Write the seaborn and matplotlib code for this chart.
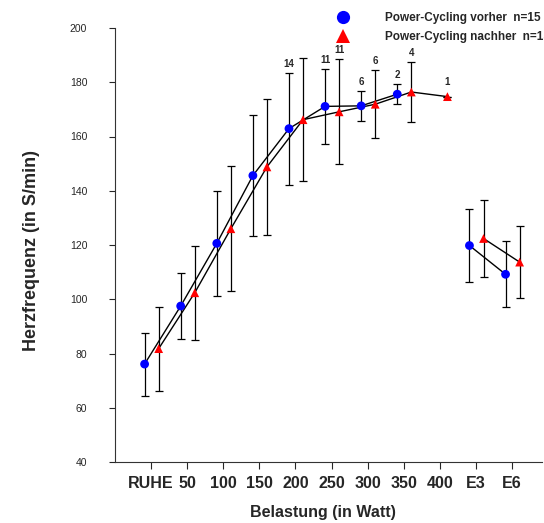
import numpy as np
import pandas as pd
import matplotlib
matplotlib.use("Agg")
import matplotlib.pyplot as plt
import seaborn as sns
from matplotlib.lines import Line2D

# ---------------- data ----------------
categories = ['RUHE', '50', '100', '150', '200', '250', '300', '350', '400', 'E3', 'E6']
segment = ['Belastung'] * 9 + ['Erholung'] * 2

vorher_mean = [76.1, 97.5, 120.6, 145.6, 162.9, 171.1, 171.3, 175.6, np.nan, 119.8, 109.2]
vorher_sd = [11.6, 12.2, 19.3, 22.3, 20.6, 13.9, 5.5, 3.7, np.nan, 13.6, 12.2]
vorher_n = ['', '', '', '', '14', '11', '6', '2', '', '', '']

nachher_mean = [81.8, 102.4, 126.0, 148.8, 166.2, 169.1, 171.9, 176.4, 174.7, 122.4, 113.7]
nachher_sd = [15.5, 17.3, 23.0, 25.1, 22.6, 19.3, 12.5, 11.0, 0.0, 14.3, 13.3]
nachher_n = ['', '', '', '', '', '11', '6', '4', '1', '', '']

yticks = [40, 60, 80, 100, 120, 140, 160, 180, 200]

legend_labels = ['Power-Cycling vorher  n=15', 'Power-Cycling nachher  n=15']

# ---------------- styling ----------------
sns.set_style("ticks")
plt.rcParams['font.family'] = ['Liberation Sans', 'DejaVu Sans']

groups = {
    'vorher': dict(mean=vorher_mean, sd=vorher_sd, n=vorher_n, offset=-0.18,
                   color='#0000ff', marker='o'),
    'nachher': dict(mean=nachher_mean, sd=nachher_sd, n=nachher_n, offset=0.21,
                    color='#ff0000', marker='^'),
}

rows = []
for g, d in groups.items():
    for i, cat in enumerate(categories):
        rows.append(dict(group=g, cat=cat, idx=i, x=i + d['offset'],
                         mean=d['mean'][i], sd=d['sd'][i], n=d['n'][i],
                         segment=segment[i]))
df = pd.DataFrame(rows).dropna(subset=['mean'])

fig = plt.figure(figsize=(5.44, 5.23), dpi=100)
ax = fig.add_axes([115 / 544, 1 - 462 / 523, (542 - 115) / 544, (462 - 28) / 523])

# connecting lines
sns.lineplot(data=df, x='x', y='mean', hue='group', units='segment', estimator=None,
             palette={'vorher': 'black', 'nachher': 'black'}, linewidth=1.0,
             legend=False, sort=True, ax=ax, zorder=2)

# error bars
for g, d in groups.items():
    sub = df[df.group == g]
    ax.errorbar(sub['x'], sub['mean'], yerr=sub['sd'].fillna(0), fmt='none',
                ecolor='black', elinewidth=0.9, capsize=2.6, capthick=0.9, zorder=1)

# markers
sns.scatterplot(data=df, x='x', y='mean', hue='group', style='group',
                palette={g: d['color'] for g, d in groups.items()},
                markers={g: d['marker'] for g, d in groups.items()},
                s=40, edgecolor='none', legend=False, ax=ax, zorder=3)

# n labels
for _, r in df.iterrows():
    if r['n']:
        sd = 0 if np.isnan(r['sd']) else r['sd']
        off = 3 if sd > 0 else 7
        ax.annotate(r['n'], (r['x'], r['mean'] + sd), xytext=(0, off),
                    textcoords='offset points', ha='center', va='bottom',
                    fontsize=7, fontweight='bold')

ax.set_xlim(-1.0, 10.83)
ax.set_ylim(40, 200)
ax.set_yticks(yticks)
ax.set_xticks(range(len(categories)))
ax.set_xticklabels(categories, fontweight='bold')
ax.tick_params(axis='y', direction='out', length=4, width=0.8, pad=16, labelsize=7.5)
ax.tick_params(axis='x', direction='out', length=5, width=0.8, pad=5, labelsize=11.5)
sns.despine(ax=ax)
for s in ['left', 'bottom']:
    ax.spines[s].set_linewidth(0.8)
    ax.spines[s].set_color('#333333')

ax.set_xlabel('Belastung (in Watt)', fontsize=11.5, fontweight='bold')
ax.set_ylabel('Herzfrequenz (in S/min)', fontsize=13, fontweight='bold')
ax.xaxis.set_label_coords((323 - 115) / 427, (462 - 505) / 434)
ax.yaxis.set_label_coords((40 - 115) / 427, 0.488)

# legend
handles = [Line2D([], [], linestyle='none', marker=groups[g]['marker'],
                  color=groups[g]['color'], markersize=9.5, markeredgewidth=0)
           for g in groups]
fig.legend(handles, legend_labels, loc='upper left',
           bbox_to_anchor=(337 / 544, 1 - 12.5 / 523), frameon=False,
           prop=dict(size=8.5, weight='bold'), handlelength=1.0,
           handletextpad=3.07, labelspacing=0.56, borderpad=0, borderaxespad=0,
           numpoints=1)

fig.savefig('out.png', dpi=100, facecolor='white')
